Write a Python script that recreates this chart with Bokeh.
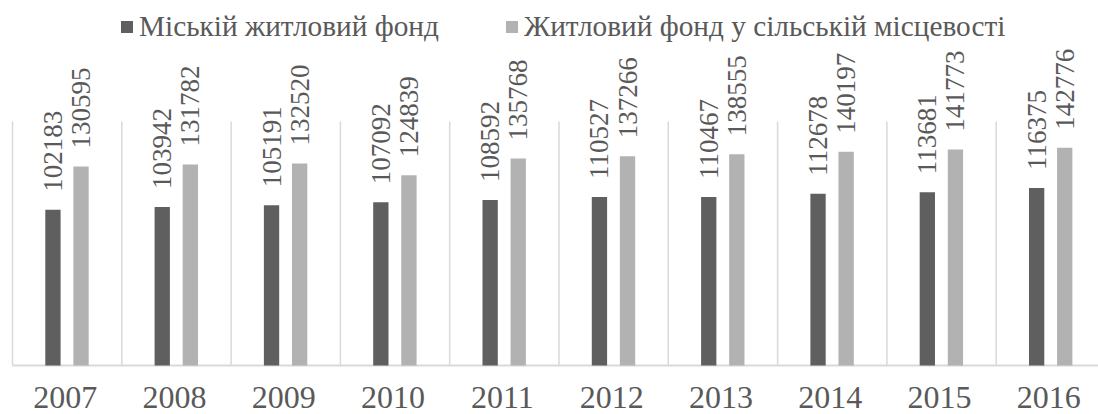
import numpy as np
from bokeh.plotting import figure
from bokeh.models import ColumnDataSource, Range1d, LabelSet, Legend, LegendItem
from bokeh.core.properties import value
from bokeh.embed import file_html
from bokeh.resources import INLINE

# ---- data ----
years = ["2007", "2008", "2009", "2010", "2011", "2012", "2013", "2014", "2015", "2016"]
urban = [102183, 103942, 105191, 107092, 108592, 110527, 110467, 112678, 113681, 116375]
rural = [130595, 131782, 132520, 124839, 135768, 137266, 138555, 140197, 141773, 142776]
series_names = ["Міській житловий фонд", "Житловий фонд у сільській місцевості"]
grid_top = 160000

FONT = "Liberation Serif"
TEXT = "#595959"
DARK = "#5f5f5f"
LIGHT = "#b2b2b2"
GRID = "#d9d9d9"

idx = np.arange(len(years))
centers = idx + 0.5
bounds = np.arange(len(years) + 1)

p = figure(width=1098, height=414, output_backend="svg", toolbar_location=None,
           x_range=Range1d(-0.1098, 9.936), y_range=Range1d(-32144, 239440),
           min_border=0, x_axis_type=None, y_axis_type=None)
p.outline_line_color = None
p.background_fill_color = "white"

# category separators and base line
p.segment(x0=bounds, y0=0, x1=bounds, y1=grid_top, line_color=GRID, line_width=1.5)
p.segment(x0=[bounds[0]], y0=[0], x1=[bounds[-1]], y1=[0], line_color=GRID, line_width=2)

src_u = ColumnDataSource(dict(x=centers - 0.13, top=urban, label=[str(v) for v in urban]))
src_r = ColumnDataSource(dict(x=centers + 0.127, top=rural, label=[str(v) for v in rural]))

r1 = p.vbar(x="x", top="top", bottom=0, width=0.14, source=src_u, fill_color=DARK, line_color=None)
r2 = p.vbar(x="x", top="top", bottom=0, width=0.14, source=src_r, fill_color=LIGHT, line_color=None)

for src in (src_u, src_r):
    p.add_layout(LabelSet(x="x", y="top", text="label", source=src, angle=np.pi / 2,
                          y_offset=18, text_align="left", text_baseline="middle",
                          text_font=value(FONT), text_font_size="27px", text_color=TEXT))

# category labels
p.text(x=centers, y=[-20992] * len(years), text=years, x_offset=-2,
       text_align="center", text_baseline="middle",
       text_font=value(FONT), text_font_size="32px", text_color=TEXT)

legend = Legend(items=[LegendItem(label=series_names[0], renderers=[r1]),
                       LegendItem(label=series_names[1], renderers=[r2])],
                orientation="horizontal", location=(119, 371),
                border_line_color=None, background_fill_alpha=0,
                padding=0, margin=0, spacing=65, label_standoff=5,
                glyph_width=15, glyph_height=15,
                label_text_font=FONT, label_text_font_size="29.3px", label_text_color=TEXT)
p.add_layout(legend)

open("out.html", "w").write(file_html(p, INLINE))
